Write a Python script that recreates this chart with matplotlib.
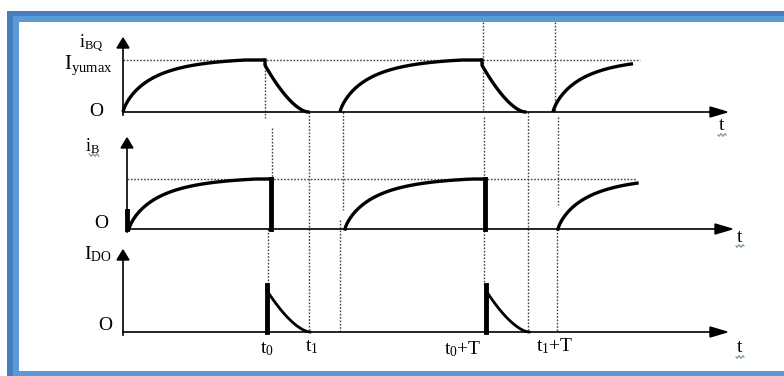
# Timing diagram of i_BQ, i_B and I_DO over one switching period
import numpy as np
import matplotlib.pyplot as plt
from matplotlib.patches import Rectangle, Polygon

plt.rcParams["font.family"] = ["Liberation Serif", "DejaVu Serif"]
plt.rcParams["mathtext.default"] = "regular"

# waveform event times (diagram x units)
bq_rise = [(123, 265), (340, 482), (553, 633)]   # (start, stop) of i_BQ rise
bq_fall = [(265, 308), (482, 525)]               # (t0, t1) decay of i_BQ
b_rise = [(129, 271), (345, 485), (558, 637)]    # i_B rise
b_drop = [271, 485]                              # i_B cut off at t0
do_pulse = [(267, 310), (486, 529)]              # I_DO pulse t0 -> t1
rise_len = 142

# dotted guide segments (x, y_from, y_to)
guides = [(265, 60, 118), (272, 128, 179), (268, 229, 285),
          (309, 112, 332), (343, 112, 210), (340, 220, 332),
          (483, 22, 110), (484, 117, 285), (528, 112, 332),
          (555, 22, 112), (558, 117, 205), (557, 229, 332)]

tick_labels = [("t$_0$", 267, 349), ("t$_1$", 312, 347),
               ("t$_0$+T", 463, 349), ("t$_1$+T", 555, 346)]


def rise(u):
    return (1 - np.exp(-3 * u ** 0.8)) / (1 - np.exp(-3))


def fall(u):
    return (1 - u) ** 1.6


fig = plt.figure(figsize=(7.84, 3.76), dpi=100)
ax = fig.add_axes([0, 0, 1, 1])
ax.set_xlim(0, 784)
ax.set_ylim(376, 0)
ax.axis("off")

# frame
ax.add_patch(Rectangle((7, 11), 777, 6, color="#4a7cc0", lw=0))
ax.add_patch(Rectangle((7, 16), 777, 6, color="#5b9bd5", lw=0))
ax.add_patch(Rectangle((7, 11), 6, 365, color="#4a7cc0", lw=0))
ax.add_patch(Rectangle((13, 16), 6, 360, color="#5b9bd5", lw=0))
ax.add_patch(Rectangle((13, 371), 771, 5, color="#5b9bd5", lw=0))


def axes_arrows(x0, top, base, tip):
    ax.plot([x0, x0], [base + 3, top + 6], color="black", lw=1.2)
    ax.add_patch(Polygon([(x0, top), (x0 - 6, top + 10), (x0 + 6, top + 10)],
                         color="black"))
    ax.plot([x0, tip - 12], [base, base], color="black", lw=1.2)
    ax.add_patch(Polygon([(tip, base), (tip - 17, base - 5), (tip - 17, base + 5)],
                         color="black"))


def squiggle(xc, y, w=8):
    xs = np.linspace(xc - w / 2, xc + w / 2, 30)
    ax.plot(xs, y + 1.2 * np.sin((xs - xc) * 1.6), color="#6a9a6a", lw=0.8)


dot = dict(color="#444444", lw=1.0, ls=(0, (1.2, 1.2)))
for gx, y0, y1 in guides:
    ax.plot([gx, gx], [y0, y1], **dot)
ax.plot([123, 640], [60, 60], **dot)
ax.plot([127, 637], [179, 179], **dot)

# top panel: i_BQ
axes_arrows(123, 38, 112, 727)
base, lvl = 112, 60
for s, e in bq_rise:
    t = np.linspace(s, e, 200)
    u = np.clip((t - s) / (rise_len - 20), 0, 1)
    ax.plot(t, base - (base - lvl) * rise(u), color="black", lw=2.4,
            solid_capstyle="butt")
for s, e in bq_fall:
    t = np.linspace(s, e, 100)
    ax.plot(np.r_[s, t], np.r_[lvl, base - (base - lvl) * 0.9 * fall((t - s) / (e - s))],
            color="black", lw=2.4)

# middle panel: i_B
axes_arrows(127, 138, 229, 732)
base, lvl = 229, 179
ax.plot([127, 127], [base, 211], color="black", lw=3.5)
for s, e in b_rise:
    t = np.linspace(s, e, 200)
    u = np.clip((t - s) / (rise_len - 15), 0, 1)
    ax.plot(t, base - (base - lvl) * rise(u), color="black", lw=2.4)
for x in b_drop:
    ax.plot([x, x], [lvl, base], color="black", lw=3.5)

# bottom panel: I_DO
axes_arrows(123, 250, 332, 727)
base, peak = 332, 285
for s, e in do_pulse:
    ax.plot([s, s], [base, peak], color="black", lw=3.5)
    t = np.linspace(s, e, 100)
    ax.plot(t, base - (base - peak) * 0.88 * fall((t - s) / (e - s)),
            color="black", lw=2.0)

# labels
ax.text(91, 43, "i$_{BQ}$", fontsize=13, ha="center", va="center")
ax.text(113, 65, "I$_{yumax}$", fontsize=15, ha="right", va="center")
ax.text(96, 111, "O", fontsize=14, ha="center", va="center")
ax.text(92, 146, "i$_B$", fontsize=13, ha="center", va="center")
ax.text(101, 223, "O", fontsize=14, ha="center", va="center")
ax.text(112, 254, "I$_{DO}$", fontsize=14, ha="right", va="center")
ax.text(105, 325, "O", fontsize=14, ha="center", va="center")
for s, x, y in tick_labels:
    ax.text(x, y, s, fontsize=14, ha="center", va="center")
for x, y in [(722, 126), (740, 237), (740, 348)]:
    ax.text(x, y, "t", fontsize=14, ha="center", va="center")
    squiggle(x, y + 9)
squiggle(94, 155, 10)

fig.savefig("out.png", dpi=100)
